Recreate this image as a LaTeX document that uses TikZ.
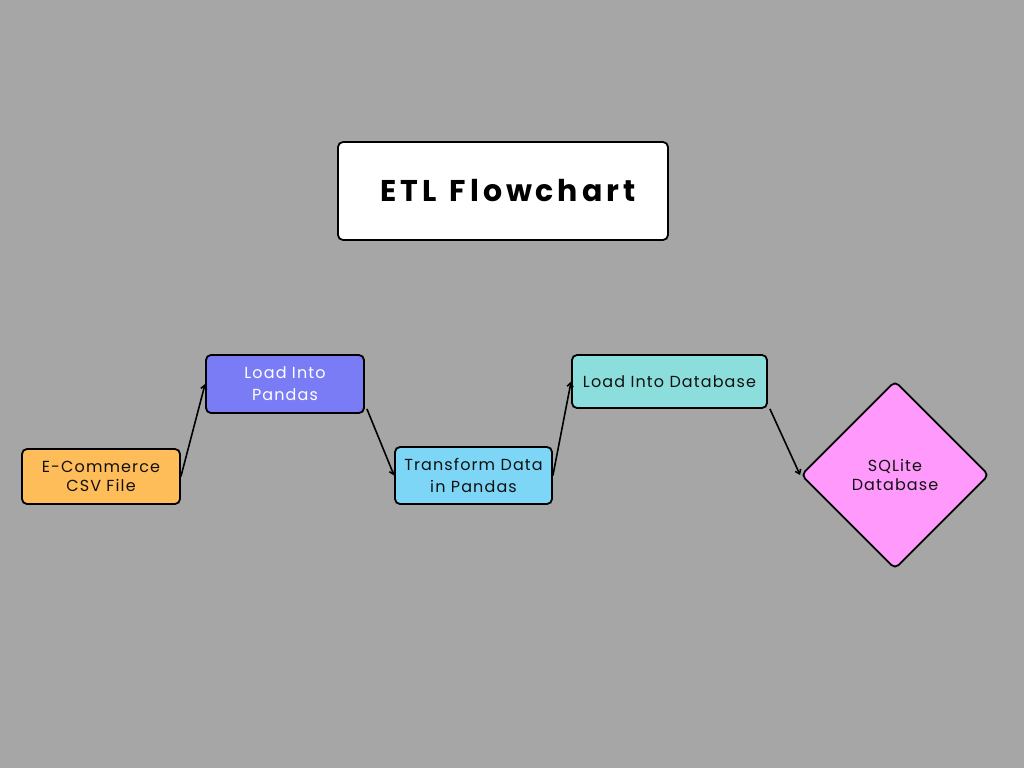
\documentclass[tikz,border=0pt]{standalone}
\usepackage{fontspec}
\setmainfont{Poppins}[LetterSpace=7]
\newfontfamily\titlefont{Poppins}[UprightFont=* Bold,LetterSpace=13]
\usetikzlibrary{arrows.meta,shapes.geometric}
\definecolor{bg}{HTML}{A6A6A6}
\definecolor{orangebox}{HTML}{FFBD59}
\definecolor{violetbox}{HTML}{7A7CF6}
\definecolor{skybox}{HTML}{7ED6F7}
\definecolor{tealbox}{HTML}{8CDEDC}
\definecolor{pinkbox}{HTML}{FF99FC}
\definecolor{ink}{HTML}{111111}
\begin{document}
\begin{tikzpicture}[x=1pt,y=-1pt,
  box/.style={draw=black,line width=1.8pt,rounded corners=5pt,inner sep=0pt,align=center,
    font=\fontsize{16}{19.5}\selectfont,text=ink},
  conn/.style={line width=1.6pt,-{Straight Barb[length=4pt,width=6pt]}}]
\useasboundingbox (0,0) rectangle (1024,768);
\fill[bg] (0,0) rectangle (1024,768);
\node[box,fill=white,minimum width=330pt,minimum height=98pt,font=\titlefont\fontsize{30}{34}\selectfont,text=black] (title) at (503,191) {\hspace*{10pt}ETL\hspace{3pt} Flowchart};
\node[box,fill=orangebox,minimum width=158pt,minimum height=55pt] (ecom) at (101,476.5) {E-Commerce\\CSV File};
\node[box,fill=violetbox,minimum width=158pt,minimum height=58pt,text=white,font=\fontsize{16}{22}\selectfont] (pandas) at (285,384) {Load Into\\Pandas};
\node[box,fill=skybox,minimum width=157pt,minimum height=57pt,font=\fontsize{16}{22}\selectfont] (transform) at (473.5,475.5) {Transform Data\\in Pandas};
\node[box,fill=tealbox,minimum width=195pt,minimum height=53pt] (loaddb) at (669.5,381.5) {Load Into Database};
\node[box,shape=diamond,fill=pinkbox,minimum width=188pt,minimum height=188pt,font=\fontsize{16}{18.5}\selectfont] (sqlite) at (895,475) {SQLite\\Database};
\draw[conn] (ecom.east) -- (pandas.west);
\draw[conn] ([xshift=2pt,yshift=5pt]pandas.south east) -- (transform.west);
\draw[conn] (transform.east) -- (loaddb.west);
\draw[conn] ([xshift=2pt]loaddb.south east) -- (sqlite.west);
\end{tikzpicture}
\end{document}
